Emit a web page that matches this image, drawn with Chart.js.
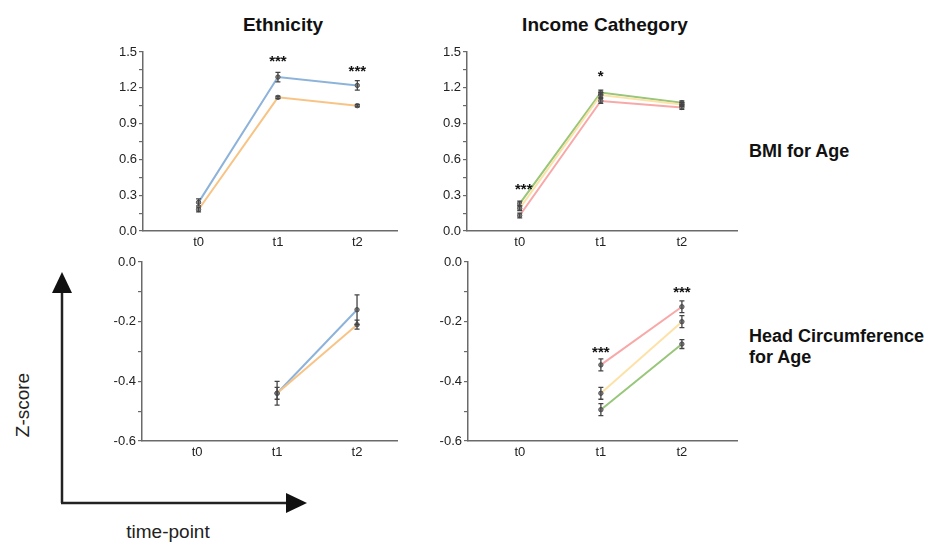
<!DOCTYPE html>
<html>
<head>
<meta charset="utf-8">
<script src="https://cdn.jsdelivr.net/npm/chart.js@4"></script>
<style>
  body { margin: 0; background: #fff; width: 942px; height: 542px; overflow: hidden; position: relative;
         font-family: "Liberation Sans", Arial, sans-serif; }
  .panel { position: absolute; }
  .txt { position: absolute; color: #111; white-space: nowrap; }
  .title { font-weight: bold; font-size: 19px; transform: translate(-50%, -50%); }
  .row { font-weight: bold; font-size: 18px; line-height: 21px; }
</style>
</head>
<body>

<div class="txt title" style="left:283px; top:25px;">Ethnicity</div>
<div class="txt title" style="left:605px; top:25px;">Income Cathegory</div>
<div class="txt row" style="left:749px; top:141px;">BMI for Age</div>
<div class="txt row" style="left:749px; top:326px;">Head Circumference<br>for Age</div>

<svg style="position:absolute; left:0; top:0;" width="942" height="542">
  <line x1="62" y1="292" x2="62" y2="503" stroke="#222" stroke-width="2.5"/>
  <line x1="61" y1="503" x2="287" y2="503" stroke="#222" stroke-width="2.5"/>
  <polygon points="62,272 52,293 72,293" fill="#111"/>
  <polygon points="307,503 286,493 286,513" fill="#111"/>
  <text x="0" y="0" transform="translate(29,405) rotate(-90)" text-anchor="middle"
        font-family="Liberation Sans, Arial, sans-serif" font-size="19" fill="#222">Z-score</text>
  <text x="168" y="538" text-anchor="middle"
        font-family="Liberation Sans, Arial, sans-serif" font-size="19" fill="#222">time-point</text>
</svg>

<div class="panel" style="left:100px; top:35px; width:310px; height:225px;"><canvas id="ethBmi" width="310" height="225"></canvas></div>
<div class="panel" style="left:420px; top:35px; width:330px; height:225px;"><canvas id="incBmi" width="330" height="225"></canvas></div>
<div class="panel" style="left:100px; top:245px; width:310px; height:225px;"><canvas id="ethHc" width="310" height="225"></canvas></div>
<div class="panel" style="left:420px; top:245px; width:330px; height:225px;"><canvas id="incHc" width="330" height="225"></canvas></div>

<script>
// time points on the x axis
const timePoints = ['t0', 't1', 't2'];

// Ethnicity - BMI for age
const ethBmiBlue = [0.24, 1.29, 1.22];
const ethBmiBlueErr = [0.03, 0.04, 0.04];
const ethBmiOrange = [0.18, 1.12, 1.05];
const ethBmiOrangeErr = [0.02, 0.01, 0.01];
const ethBmiStars = ['', '***', '***'];
const ethBmiStarY = [null, 1.44, 1.36];

// Income - BMI for age
const incBmiGreen = [0.23, 1.16, 1.075];
const incBmiGreenErr = [0.02, 0.02, 0.015];
const incBmiYellow = [0.19, 1.14, 1.06];
const incBmiYellowErr = [0.02, 0.02, 0.015];
const incBmiPink = [0.13, 1.09, 1.035];
const incBmiPinkErr = [0.02, 0.02, 0.015];
const incBmiStars = ['***', '*', ''];
const incBmiStarY = [0.37, 1.32, null];

// Ethnicity - head circumference for age
const ethHcBlue = [null, -0.44, -0.16];
const ethHcBlueErr = [0, 0.04, 0.05];
const ethHcOrange = [null, -0.44, -0.21];
const ethHcOrangeErr = [0, 0.02, 0.015];

// Income - head circumference for age
const incHcPink = [null, -0.345, -0.15];
const incHcPinkErr = [0, 0.02, 0.02];
const incHcYellow = [null, -0.44, -0.20];
const incHcYellowErr = [0, 0.02, 0.02];
const incHcGreen = [null, -0.495, -0.275];
const incHcGreenErr = [0, 0.02, 0.015];
const incHcStars = ['', '***', '***'];
const incHcStarY = [null, -0.296, -0.095];

const BLUE = '#8db3da', ORANGE = '#f8c486', GREEN = '#98c67a', YELLOW = '#fde2a8', PINK = '#f8a8a8';

function toPoints(values) {
    return values.map((v, i) => ({ x: i, y: v }));
}

function series(values, errs, color) {
    return {
        data: toPoints(values),
        errors: errs,
        borderColor: color,
        borderWidth: 2,
        pointRadius: 2.2,
        pointBackgroundColor: '#8a8a8a',
        pointBorderColor: '#555',
        pointBorderWidth: 1,
        spanGaps: false,
        tension: 0
    };
}

// error bars + significance stars, drawn through the chart's own scales
const errorBarPlugin = {
    id: 'errorBars',
    afterDatasetsDraw(chart) {
        const ctx = chart.ctx, xs = chart.scales.x, ys = chart.scales.y;
        ctx.save();
        ctx.strokeStyle = '#444';
        ctx.lineWidth = 1.3;
        chart.data.datasets.forEach(ds => {
            ds.data.forEach((p, i) => {
                const e = ds.errors ? ds.errors[i] : 0;
                if (p.y === null || !e) return;
                const x = xs.getPixelForValue(p.x);
                const y1 = ys.getPixelForValue(p.y - e), y2 = ys.getPixelForValue(p.y + e);
                ctx.beginPath();
                ctx.moveTo(x, y1); ctx.lineTo(x, y2);
                ctx.moveTo(x - 2.5, y1); ctx.lineTo(x + 2.5, y1);
                ctx.moveTo(x - 2.5, y2); ctx.lineTo(x + 2.5, y2);
                ctx.stroke();
            });
        });
        const st = chart.options.plugins.stars;
        if (st && st.labels) {
            ctx.fillStyle = '#111';
            ctx.font = 'bold 15px "Liberation Sans", Arial, sans-serif';
            ctx.textAlign = 'center';
            ctx.textBaseline = 'middle';
            st.labels.forEach((s, i) => {
                if (!s || st.y[i] === null) return;
                ctx.fillText(s, xs.getPixelForValue(i + (st.dx ? st.dx[i] : 0)), ys.getPixelForValue(st.y[i]) + 3);
            });
        }
        ctx.restore();
    }
};

function makePanel(id, datasets, opts) {
    const axisColor = '#6a6a6a';
    const tickFont = { family: '"Liberation Sans", Arial, sans-serif', size: 13 };
    return new Chart(document.getElementById(id), {
        type: 'line',
        data: { datasets: datasets },
        options: {
            responsive: false,
            animation: false,
            layout: { padding: { left: 0, right: opts.padRight, top: 17, bottom: 0 } },
            plugins: {
                legend: { display: false },
                tooltip: { enabled: false },
                stars: { labels: opts.stars, y: opts.starY, dx: opts.starDx }
            },
            scales: {
                x: {
                    type: 'linear',
                    min: opts.xMin,
                    max: opts.xMax,
                    afterBuildTicks: s => { s.ticks = timePoints.map((t, i) => ({ value: i })); },
                    afterFit: s => { s.height = 29; },
                    ticks: {
                        color: '#222', font: tickFont, padding: 4,
                        callback: v => timePoints[v]
                    },
                    grid: { display: false, drawTicks: false },
                    border: { color: axisColor, width: 1.5 }
                },
                y: {
                    min: opts.yMin,
                    max: opts.yMax,
                    afterBuildTicks: s => {
                        const t = [];
                        for (let k = 0; k <= opts.nMinor; k++) t.push({ value: opts.yMin + k * opts.minorStep });
                        s.ticks = t;
                    },
                    afterFit: s => { s.width = opts.yWidth; },
                    ticks: {
                        color: '#222', font: tickFont, padding: 2, autoSkip: false,
                        callback: (v, i) => (i % 2 === 0 ? v.toFixed(1) : '')
                    },
                    grid: { drawOnChartArea: false, tickLength: 4, color: axisColor, lineWidth: 1.2 },
                    border: { color: axisColor, width: 1.5 }
                }
            }
        },
        plugins: [errorBarPlugin]
    });
}

makePanel('ethBmi', [
    series(ethBmiOrange, ethBmiOrangeErr, ORANGE),
    series(ethBmiBlue, ethBmiBlueErr, BLUE)
], { xMin: -0.7, xMax: 2.5, yMin: 0, yMax: 1.5, minorStep: 0.15, nMinor: 10, yWidth: 43, padRight: 13,
     stars: ethBmiStars, starY: ethBmiStarY });

makePanel('incBmi', [
    series(incBmiPink, incBmiPinkErr, PINK),
    series(incBmiYellow, incBmiYellowErr, YELLOW),
    series(incBmiGreen, incBmiGreenErr, GREEN)
], { xMin: -0.65, xMax: 2.68, yMin: 0, yMax: 1.5, minorStep: 0.15, nMinor: 10, yWidth: 47, padRight: 13,
     stars: incBmiStars, starY: incBmiStarY, starDx: [0.05, 0, 0] });

makePanel('ethHc', [
    series(ethHcOrange, ethHcOrangeErr, ORANGE),
    series(ethHcBlue, ethHcBlueErr, BLUE)
], { xMin: -0.69, xMax: 2.5, yMin: -0.6, yMax: 0, minorStep: 0.1, nMinor: 6, yWidth: 42, padRight: 13,
     stars: ['', '', ''], starY: [null, null, null] });

makePanel('incHc', [
    series(incHcGreen, incHcGreenErr, GREEN),
    series(incHcYellow, incHcYellowErr, YELLOW),
    series(incHcPink, incHcPinkErr, PINK)
], { xMin: -0.64, xMax: 2.68, yMin: -0.6, yMax: 0, minorStep: 0.1, nMinor: 6, yWidth: 48, padRight: 13,
     stars: incHcStars, starY: incHcStarY });
</script>
</body>
</html>
